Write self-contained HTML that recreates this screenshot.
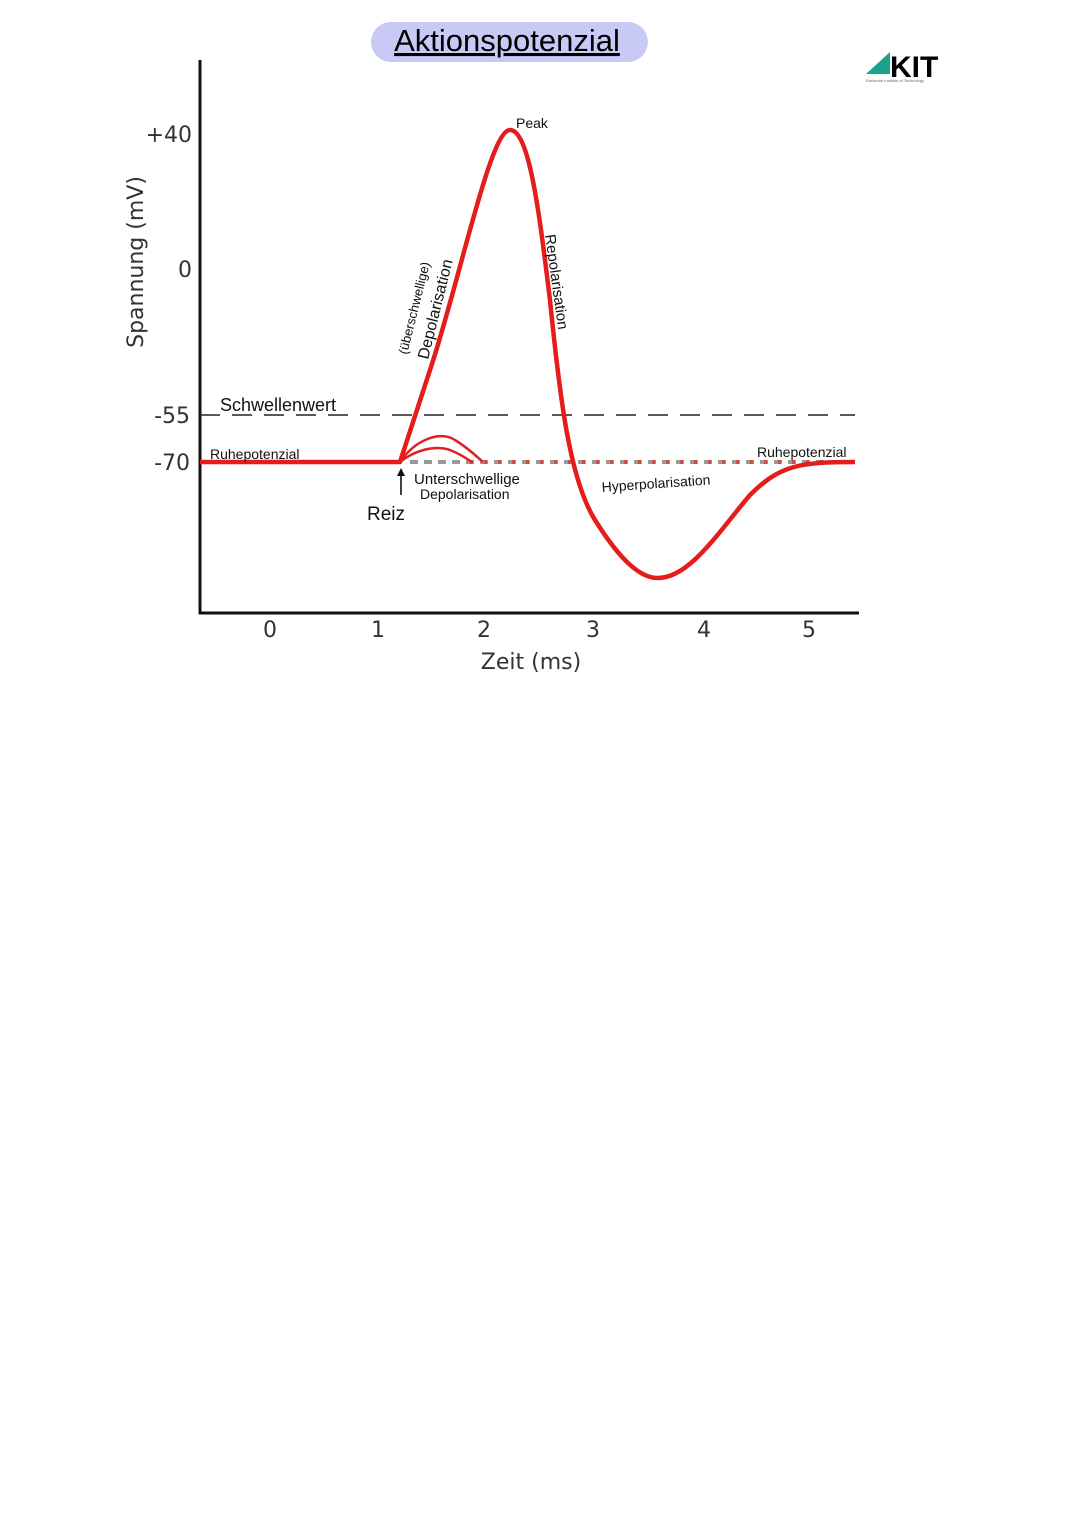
<!DOCTYPE html>
<html><head><meta charset="utf-8"><style>
body{margin:0;background:#fff;}
svg{display:block}
</style></head><body>
<svg width="1080" height="1527" viewBox="0 0 1080 1527" xmlns="http://www.w3.org/2000/svg">
<rect width="1080" height="1527" fill="#fff"/>
<rect x="371" y="22" width="277" height="40" rx="20" fill="#c9c9f6"/>
<text x="507" y="51" font-family="Liberation Sans, sans-serif" font-size="31" text-anchor="middle" fill="#000" text-decoration="underline">Aktionspotenzial</text>
<g>
<path d="M866,74 L890,74 L890,52 Z" fill="#1aa38a"/>
<text x="890" y="77" font-family="Liberation Sans, sans-serif" font-weight="bold" font-size="30" fill="#000">KIT</text>
<text x="866" y="82" font-family="Liberation Sans, sans-serif" font-size="4" fill="#666">Karlsruhe Institute of Technology</text>
</g>
<line x1="200" y1="60" x2="200" y2="614" stroke="#111" stroke-width="3"/>
<line x1="199" y1="613" x2="859" y2="613" stroke="#111" stroke-width="3"/>
<g font-family="DejaVu Sans, sans-serif" font-size="22" fill="#333" text-anchor="middle">
<text x="270" y="637">0</text><text x="378" y="637">1</text><text x="484" y="637">2</text>
<text x="593" y="637">3</text><text x="704" y="637">4</text><text x="809" y="637">5</text>
<text x="531" y="669">Zeit (ms)</text>
</g>
<g font-family="DejaVu Sans, sans-serif" font-size="22" fill="#333" text-anchor="end">
<text x="192" y="142">+40</text><text x="192" y="277">0</text>
<text x="190" y="423">-55</text><text x="190" y="470">-70</text>
</g>
<text transform="translate(143,262) rotate(-90)" font-family="DejaVu Sans, sans-serif" font-size="22" fill="#333" text-anchor="middle">Spannung (mV)</text>
<line x1="200" y1="415" x2="855" y2="415" stroke="#222" stroke-width="1.6" stroke-dasharray="20,12"/>
<line x1="410" y1="462" x2="855" y2="462" stroke="#999" stroke-width="4" stroke-dasharray="8,6"/>
<line x1="470" y1="462" x2="855" y2="462" stroke="#e03030" stroke-width="4" stroke-dasharray="3,11" opacity="0.7"/>
<path d="M400,462 C415,440 440,430 455,440 C468,448 475,455 483,462" fill="none" stroke="#e02020" stroke-width="2.5"/>
<path d="M400,462 C415,450 435,445 450,450 C460,454 466,458 472,462" fill="none" stroke="#e02020" stroke-width="2.5"/>
<path d="M200,462 L400,462 L430,370 C460,280 490,130 510,130 C530,130 540,220 550,300 C560,400 570,480 595,520 C620,560 640,578 658,578 C690,578 720,530 750,495 C780,465 800,462 855,462" fill="none" stroke="#e41c1c" stroke-width="4.5" stroke-linejoin="round"/>
<g font-family="Liberation Sans, sans-serif" fill="#111">
<text x="516" y="128" font-size="14">Peak</text>
<text x="220" y="411" font-size="18">Schwellenwert</text>
<text x="210" y="459" font-size="14">Ruhepotenzial</text>
<text x="757" y="457" font-size="14">Ruhepotenzial</text>
<text x="414" y="484" font-size="15">Unterschwellige</text>
<text x="420" y="499" font-size="14">Depolarisation</text>
<text x="367" y="520" font-size="19">Reiz</text>
<text x="602" y="492" font-size="14" transform="rotate(-4,602,492)">Hyperpolarisation</text>
<text transform="translate(407,355) rotate(-76)" font-size="13">(überschwellige)</text>
<text transform="translate(428,360) rotate(-76)" font-size="16">Depolarisation</text>
<text transform="translate(545,235) rotate(82)" font-size="15">Repolarisation</text>
</g>
<line x1="401" y1="495" x2="401" y2="474" stroke="#111" stroke-width="1.6"/>
<path d="M397,476 L401,468 L405,476 Z" fill="#111"/>
</svg>
</body></html>
